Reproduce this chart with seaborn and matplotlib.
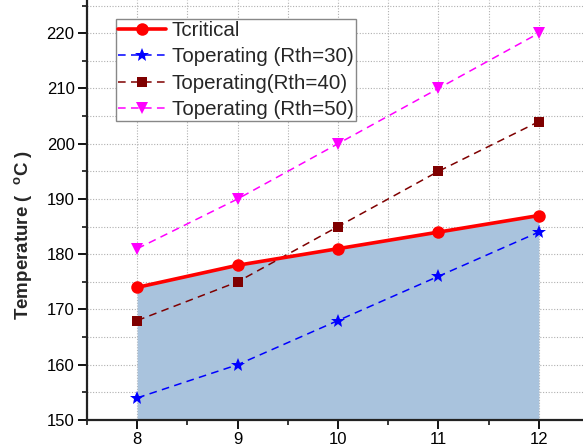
import matplotlib
matplotlib.use("Agg")
import matplotlib.pyplot as plt
import seaborn as sns
import pandas as pd
from matplotlib.ticker import MultipleLocator

# Data
power = [8, 9, 10, 11, 12]
t_critical = [174, 178, 181, 184, 187]
t_rth30 = [154, 160, 168, 176, 184]
t_rth40 = [168, 175, 185, 195, 204]
t_rth50 = [181, 190, 200, 210, 220]
labels = ["Tcritical", "Toperating (Rth=30)", "Toperating(Rth=40)", "Toperating (Rth=50)"]

sns.set_style("ticks")
plt.rcParams['font.family'] = ['Liberation Sans', 'DejaVu Sans']
plt.rcParams['mathtext.fontset'] = 'custom'
plt.rcParams['mathtext.rm'] = 'Liberation Sans'
plt.rcParams['mathtext.bf'] = 'Liberation Sans:bold'

fig = plt.figure(figsize=(5.83, 4.46), dpi=100)
ax = fig.add_axes([87/583, 26/446, (589-87)/583, 420/446])

df = pd.DataFrame({"x": power, "crit": t_critical, "r30": t_rth30,
                   "r40": t_rth40, "r50": t_rth50})

ax.fill_between(df["x"], df["crit"], 150, color="#a9c3dd", zorder=1, linewidth=0)

dash = (0, (5, 3.5))
sns.lineplot(data=df, x="x", y="crit", ax=ax, color="#ff0000", lw=2.6,
             marker="o", markersize=9, markeredgewidth=0, label=labels[0], zorder=5)
sns.lineplot(data=df, x="x", y="r30", ax=ax, color="#0000ff", lw=1.1,
             linestyle=dash, marker="*", markersize=10, markeredgewidth=0,
             label=labels[1], zorder=4)
sns.lineplot(data=df, x="x", y="r40", ax=ax, color="#7f0000", lw=1.1,
             linestyle=dash, marker="s", markersize=7, markeredgewidth=0,
             label=labels[2], zorder=4)
sns.lineplot(data=df, x="x", y="r50", ax=ax, color="#ff00ff", lw=1.1,
             linestyle=dash, marker="v", markersize=9, markeredgewidth=0,
             label=labels[3], zorder=4)

ax.set_xlim(7.5, 12.5)
ax.set_ylim(150, 226)
ax.xaxis.set_major_locator(MultipleLocator(1))
ax.xaxis.set_minor_locator(MultipleLocator(0.5))
ax.yaxis.set_major_locator(MultipleLocator(10))
ax.yaxis.set_minor_locator(MultipleLocator(5))

ax.grid(True, which="both", color="#b0b0b0", linestyle=(0, (1, 1.5)), linewidth=0.8)
ax.set_axisbelow(True)

ax.tick_params(which="major", direction="out", length=6.5, width=1.3, labelsize=12,
               colors="#000000", pad=2.5)
ax.tick_params(which="minor", direction="out", length=3.5, width=1.3)
for s in ["top", "right"]:
    ax.spines[s].set_visible(False)
for s in ["left", "bottom"]:
    ax.spines[s].set_linewidth(1.6)
    ax.spines[s].set_color("#222222")

ax.set_xlabel("")
ax.set_ylabel(r"Temperature (  $\mathbf{^{o}}$C )", fontsize=13.5, fontweight="bold")
ax.yaxis.set_label_coords(-0.106, 0.44)

leg = ax.legend(loc="upper left", bbox_to_anchor=(0.058, 0.955), fontsize=14.8,
                frameon=True, fancybox=False, edgecolor="#888888", framealpha=1,
                handlelength=2.35, handletextpad=0.25, borderpad=0.1, labelspacing=0.36,
                borderaxespad=0)
leg.get_frame().set_linewidth(1.0)
leg.set_zorder(10)

fig.savefig("out.png", dpi=100)
